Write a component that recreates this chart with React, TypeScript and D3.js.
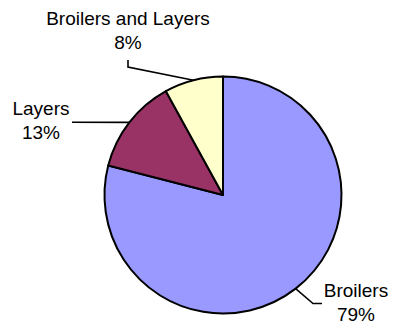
import React from "react";
import * as d3 from "d3";

const categories = ["Broilers", "Layers", "Broilers and Layers"];
const values = [79, 13, 8];
const colors = ["#9999FF", "#993366", "#FFFFCC"];

// label layout: text anchor point and leader polyline elbow points (layout only)
const labelLayout = [
  { tx: 356, ty: 297, elbow: [[313, 303.5], [322, 303.5]] },
  { tx: 41, ty: 115, elbow: [[72, 122.3]] },
  { tx: 128, ty: 25, elbow: [[128, 67], [128, 60]] },
];

export default function App() {
  const W = 393, H = 323;
  const cx = 223, cy = 195, r = 118.5;
  const total = d3.sum(values);
  const pie = d3.pie<number>().sort(null).value((d) => d)(values);
  const arc = d3.arc<d3.PieArcDatum<number>>().innerRadius(0).outerRadius(r);
  const font = "'Liberation Sans', Arial, sans-serif";
  return (
    <svg width={W} height={H} style={{ position: "absolute", left: 0, top: 0, background: "#fff" }}>
      <g transform={`translate(${cx},${cy})`}>
        {pie.map((p, i) => (
          <path key={i} d={arc(p) || ""} fill={colors[i]} stroke="#000" strokeWidth={2} strokeLinejoin="round" />
        ))}
      </g>
      {pie.map((p, i) => {
        const mid = (p.startAngle + p.endAngle) / 2;
        const ax = cx + r * Math.sin(mid);
        const ay = cy - r * Math.cos(mid);
        const L = labelLayout[i];
        const pts = [[ax, ay], ...L.elbow];
        const pct = Math.round((values[i] / total) * 100);
        return (
          <g key={"l" + i}>
            <polyline points={pts.map((q) => q.join(",")).join(" ")} fill="none" stroke="#000" strokeWidth={1.6} />
            <text x={L.tx} y={L.ty} textAnchor="middle" fontFamily={font} fontSize={19} fill="#000">
              {categories[i]}
            </text>
            <text x={L.tx} y={L.ty + 24.3} textAnchor="middle" fontFamily={font} fontSize={19} fill="#000">
              {pct}%
            </text>
          </g>
        );
      })}
    </svg>
  );
}
